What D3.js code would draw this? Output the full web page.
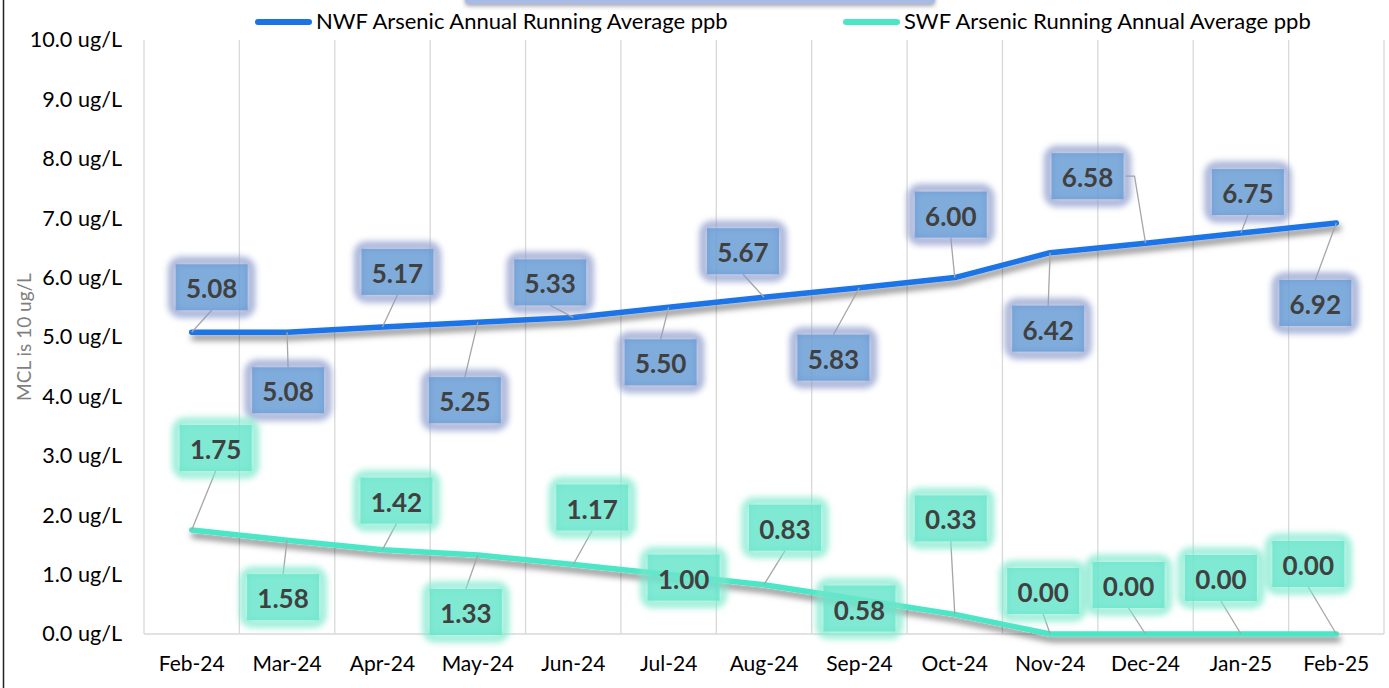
<!DOCTYPE html>
<html>
<head>
<meta charset="utf-8">
<script src="https://cdn.jsdelivr.net/npm/d3@7"></script>
<style>
  body { margin: 0; background: #fff; }
  svg { display: block; font-family: Lato, "Noto Sans", sans-serif; }
  .tick text { fill: #000; }
</style>
</head>
<body>
<div id="chart"></div>
<script>
const months = ["Feb-24", "Mar-24", "Apr-24", "May-24", "Jun-24", "Jul-24", "Aug-24",
                "Sep-24", "Oct-24", "Nov-24", "Dec-24", "Jan-25", "Feb-25"];
const nwfValues = [5.08, 5.08, 5.17, 5.25, 5.33, 5.50, 5.67, 5.83, 6.00, 6.42, 6.58, 6.75, 6.92];
const swfValues = [1.75, 1.58, 1.42, 1.33, 1.17, 1.00, 0.83, 0.58, 0.33, 0.00, 0.00, 0.00, 0.00];
const yTicks = [0, 1, 2, 3, 4, 5, 6, 7, 8, 9, 10];
const nwfName = "NWF Arsenic Annual Running Average ppb";
const swfName = "SWF Arsenic Running Annual Average ppb";

// where Excel had the labels dragged to, relative to the point (px)
const nwfLabelOffsets = [[20, -45], [1, 58], [15, -55], [-13, 78], [-23, -35], [-8, 55], [-21, -46],
                         [-26, 70], [-4, -63], [-2, 76], [-58, -67], [7, -41], [-21, 80]];
const swfLabelOffsets = [[24, -82], [-4, 57], [14, -49], [-12, 57], [19, -57], [15, 3], [21, -57],
                         [0, 9], [-4, -96], [-7, -43], [-17, -49], [-20, -56], [-28, -70]];

const w = 1389, h = 688;
const plotLeft = 144, plotRight = 1384, plotTop = 40, plotBottom = 634;

const svg = d3.select("#chart").append("svg")
  .attr("width", w)
  .attr("height", h);

const defs = svg.append("defs");
defs.append("filter").attr("id", "lineShadow")
  .attr("x", "-5%").attr("y", "-20%").attr("width", "110%").attr("height", "140%")
  .append("feDropShadow")
  .attr("dx", 2).attr("dy", 5).attr("stdDeviation", 3)
  .attr("flood-color", "#000").attr("flood-opacity", 0.5);
defs.append("filter").attr("id", "glow")
  .attr("x", "-30%").attr("y", "-30%").attr("width", "160%").attr("height", "160%")
  .append("feGaussianBlur").attr("stdDeviation", 3);
defs.append("filter").attr("id", "boxShadow")
  .attr("x", "-10%").attr("y", "-50%").attr("width", "120%").attr("height", "200%")
  .append("feDropShadow")
  .attr("dx", 0).attr("dy", 2).attr("stdDeviation", 2)
  .attr("flood-color", "#445").attr("flood-opacity", 0.5);

const x = d3.scaleBand().domain(months).range([plotLeft, plotRight]);
const y = d3.scaleLinear().domain([0, 10]).range([plotBottom, plotTop]);
const cx = m => x(m) + x.bandwidth() / 2;

// frame edge on the left
svg.append("line")
  .attr("x1", 3.5).attr("x2", 3.5).attr("y1", 0).attr("y2", h)
  .attr("stroke", "#222").attr("stroke-width", 1.5);

// title box cut off at the top
svg.append("rect")
  .attr("x", 465).attr("y", -40)
  .attr("width", 470).attr("height", 44)
  .attr("rx", 4)
  .attr("fill", "#a9bbe4")
  .attr("filter", "url(#boxShadow)");

// vertical gridlines at category edges
const edges = months.map(m => x(m)).concat([plotRight]);
svg.append("g").selectAll("line")
  .data(edges)
  .enter()
  .append("line")
  .attr("x1", d => d).attr("x2", d => d)
  .attr("y1", plotTop).attr("y2", plotBottom)
  .attr("stroke", "#d9d9d9").attr("stroke-width", 1.3);

svg.append("line")
  .attr("x1", plotLeft).attr("x2", plotRight)
  .attr("y1", plotBottom).attr("y2", plotBottom)
  .attr("stroke", "#d9d9d9").attr("stroke-width", 1.5);

const yAxis = d3.axisLeft(y)
  .tickValues(yTicks)
  .tickFormat(d => d.toFixed(1) + " ug/L")
  .tickSize(0)
  .tickPadding(22);

svg.append("g")
  .attr("transform", `translate(${plotLeft}, 0)`)
  .call(yAxis)
  .call(g => g.select(".domain").remove())
  .selectAll("text")
  .style("font-size", "21.6px")
  .style("font-family", "Lato, sans-serif");

const xAxis = d3.axisBottom(x).tickSize(0).tickPadding(22);

svg.append("g")
  .attr("transform", `translate(0, ${plotBottom})`)
  .call(xAxis)
  .call(g => g.select(".domain").remove())
  .selectAll("text")
  .style("font-size", "21px")
  .style("font-family", "Lato, sans-serif");

svg.append("text")
  .attr("transform", "rotate(-90)")
  .attr("x", -337)
  .attr("y", 31)
  .attr("text-anchor", "middle")
  .style("font-size", "19px")
  .style("fill", "#7f7f7f")
  .text("MCL is 10 ug/L");

// legend
const legend = svg.append("g");
[[nwfName, "#1a74e8", 255], [swfName, "#4be6c6", 843]].forEach(([name, color, lx]) => {
  legend.append("line")
    .attr("x1", lx + 3).attr("x2", lx + 54)
    .attr("y1", 22).attr("y2", 22)
    .attr("stroke", color).attr("stroke-width", 6)
    .attr("stroke-linecap", "round");
  legend.append("text")
    .attr("x", lx + 61)
    .attr("y", 29)
    .style("font-size", "22px")
    .text(name);
});

const line = d3.line()
  .x((d, i) => cx(months[i]))
  .y(d => y(d));

const series = [
  { values: nwfValues, offsets: nwfLabelOffsets, color: "#1a74e8",
    fill: "rgb(106,158,214)", glow: "#8a9acb" },
  { values: swfValues, offsets: swfLabelOffsets, color: "#4be6c6",
    fill: "rgb(106,229,203)", glow: "#7ae8cc" }
];

series.forEach(s => {
  svg.append("path")
    .datum(s.values)
    .attr("d", line)
    .attr("fill", "none")
    .attr("stroke", s.color)
    .attr("stroke-width", 5.5)
    .attr("stroke-linejoin", "round")
    .attr("stroke-linecap", "round")
    .attr("filter", "url(#lineShadow)");
});

const bw = 72, bh = 46;

series.forEach(s => {
  const g = svg.append("g");
  s.values.forEach((v, i) => {
    const px = cx(months[i]), py = y(v);
    const lx = px + s.offsets[i][0], ly = py + s.offsets[i][1];
    const dx = px - lx, dy = py - ly;

    // leader line when the point sits outside the label
    if (Math.abs(dx) > bw / 2 + 6) {
      const sx = lx + Math.sign(dx) * (bw / 2 + 2);
      g.append("polyline")
        .attr("points", `${sx},${ly} ${sx + Math.sign(dx) * 9},${ly} ${px},${py}`)
        .attr("fill", "none")
        .attr("stroke", "#a6a6a6").attr("stroke-width", 1.3);
    } else if (Math.abs(dy) > bh / 2 + 6) {
      const sy = ly + Math.sign(dy) * (bh / 2);
      g.append("line")
        .attr("x1", lx).attr("y1", sy)
        .attr("x2", px).attr("y2", py)
        .attr("stroke", "#a6a6a6").attr("stroke-width", 1.3);
    }

    // soft glow ring round the label box
    g.append("rect")
      .attr("x", lx - bw / 2 - 3).attr("y", ly - bh / 2 - 3)
      .attr("width", bw + 6).attr("height", bh + 6)
      .attr("rx", 8)
      .attr("fill", "none")
      .attr("stroke", s.glow)
      .attr("stroke-width", 9)
      .attr("opacity", 0.75)
      .attr("filter", "url(#glow)");
    g.append("rect")
      .attr("x", lx - bw / 2).attr("y", ly - bh / 2)
      .attr("width", bw).attr("height", bh)
      .attr("fill", s.fill)
      .attr("fill-opacity", 0.85);
    g.append("text")
      .attr("x", lx).attr("y", ly + 1)
      .attr("text-anchor", "middle")
      .attr("dominant-baseline", "central")
      .style("font-size", "26px")
      .style("font-weight", "bold")
      .style("fill", "#404040")
      .text(v.toFixed(2));
  });
});
</script>
</body>
</html>
